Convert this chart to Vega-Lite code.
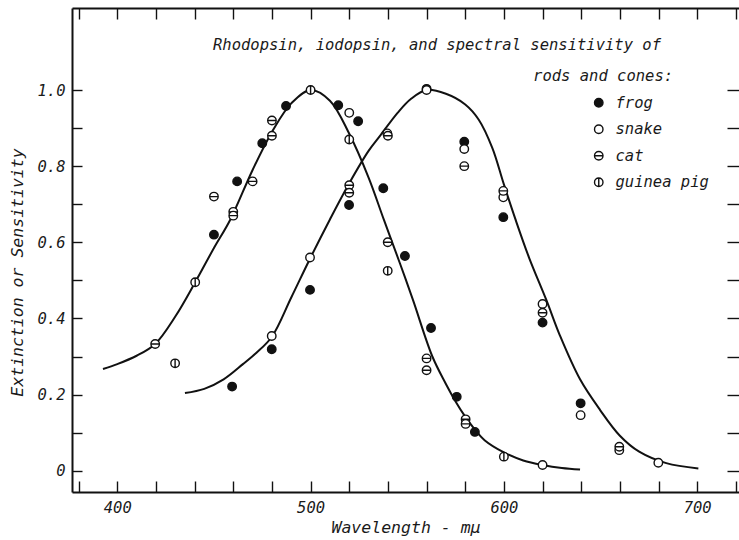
{
  "$schema": "https://vega.github.io/schema/vega-lite/v6.json",
  "width": 667,
  "height": 484,
  "autosize": {"type": "none"},
  "padding": {"left": 72, "top": 8, "right": 0, "bottom": 48},
  "background": "white",
  "config": {
    "view": {"stroke": null},
    "font": "DejaVu Sans Mono",
    "axis": {
      "grid": false,
      "labelFont": "DejaVu Sans Mono",
      "labelFontStyle": "italic",
      "labelFontSize": 15.5,
      "labelColor": "#1a1a1a",
      "labelFlush": false,
      "labelOverlap": false,
      "titleFont": "DejaVu Sans Mono",
      "titleFontStyle": "italic",
      "titleFontWeight": "normal",
      "titleFontSize": 16.5,
      "titleColor": "#1a1a1a",
      "domainColor": "#111111",
      "domainWidth": 2,
      "tickColor": "#111111",
      "tickWidth": 1.4
    },
    "legend": {
      "title": null,
      "orient": "none",
      "legendX": 519,
      "legendY": 87,
      "padding": 0,
      "labelFont": "DejaVu Sans Mono",
      "labelFontStyle": "italic",
      "labelFontSize": 15.5,
      "labelColor": "#1a1a1a",
      "labelOffset": 9,
      "rowPadding": 9.5,
      "symbolSize": 72,
      "symbolStrokeWidth": 1.4
    }
  },
  "datasets": {
    "curves": [
      {"curve": "rods", "wl": 392.6, "v": 0.267},
      {"curve": "rods", "wl": 400, "v": 0.28},
      {"curve": "rods", "wl": 410, "v": 0.302},
      {"curve": "rods", "wl": 419.6, "v": 0.333},
      {"curve": "rods", "wl": 430, "v": 0.405},
      {"curve": "rods", "wl": 440.3, "v": 0.495},
      {"curve": "rods", "wl": 450, "v": 0.585},
      {"curve": "rods", "wl": 458.3, "v": 0.658},
      {"curve": "rods", "wl": 470, "v": 0.79},
      {"curve": "rods", "wl": 480, "v": 0.89},
      {"curve": "rods", "wl": 490, "v": 0.965},
      {"curve": "rods", "wl": 500, "v": 1.0},
      {"curve": "rods", "wl": 510, "v": 0.972},
      {"curve": "rods", "wl": 520, "v": 0.885},
      {"curve": "rods", "wl": 530, "v": 0.77},
      {"curve": "rods", "wl": 538, "v": 0.658},
      {"curve": "rods", "wl": 546.2, "v": 0.545},
      {"curve": "rods", "wl": 553, "v": 0.448},
      {"curve": "rods", "wl": 563, "v": 0.3},
      {"curve": "rods", "wl": 570, "v": 0.228},
      {"curve": "rods", "wl": 575, "v": 0.182},
      {"curve": "rods", "wl": 580, "v": 0.142},
      {"curve": "rods", "wl": 585, "v": 0.108},
      {"curve": "rods", "wl": 590, "v": 0.08},
      {"curve": "rods", "wl": 600, "v": 0.048},
      {"curve": "rods", "wl": 610, "v": 0.027},
      {"curve": "rods", "wl": 620, "v": 0.015},
      {"curve": "rods", "wl": 630, "v": 0.007},
      {"curve": "rods", "wl": 639.4, "v": 0.003},
      {"curve": "cones", "wl": 435, "v": 0.204},
      {"curve": "cones", "wl": 445, "v": 0.215},
      {"curve": "cones", "wl": 455, "v": 0.24},
      {"curve": "cones", "wl": 465, "v": 0.28},
      {"curve": "cones", "wl": 472, "v": 0.31},
      {"curve": "cones", "wl": 480, "v": 0.352},
      {"curve": "cones", "wl": 490, "v": 0.455},
      {"curve": "cones", "wl": 500, "v": 0.56},
      {"curve": "cones", "wl": 510, "v": 0.66},
      {"curve": "cones", "wl": 520, "v": 0.755},
      {"curve": "cones", "wl": 530, "v": 0.84},
      {"curve": "cones", "wl": 536, "v": 0.88},
      {"curve": "cones", "wl": 545, "v": 0.94},
      {"curve": "cones", "wl": 552, "v": 0.977},
      {"curve": "cones", "wl": 560, "v": 1.0},
      {"curve": "cones", "wl": 570, "v": 0.99},
      {"curve": "cones", "wl": 580, "v": 0.962},
      {"curve": "cones", "wl": 587, "v": 0.922},
      {"curve": "cones", "wl": 594, "v": 0.848},
      {"curve": "cones", "wl": 600, "v": 0.752},
      {"curve": "cones", "wl": 606, "v": 0.66},
      {"curve": "cones", "wl": 613, "v": 0.56},
      {"curve": "cones", "wl": 622, "v": 0.448},
      {"curve": "cones", "wl": 629, "v": 0.355},
      {"curve": "cones", "wl": 639.4, "v": 0.24},
      {"curve": "cones", "wl": 649.7, "v": 0.16},
      {"curve": "cones", "wl": 660, "v": 0.092},
      {"curve": "cones", "wl": 670, "v": 0.05},
      {"curve": "cones", "wl": 684, "v": 0.02},
      {"curve": "cones", "wl": 700.6, "v": 0.006}
    ],
    "measurements": [
      {"species": "frog", "wl": 450, "v": 0.62},
      {"species": "frog", "wl": 462, "v": 0.76},
      {"species": "frog", "wl": 475, "v": 0.86},
      {"species": "frog", "wl": 487.3, "v": 0.958},
      {"species": "frog", "wl": 514.3, "v": 0.96},
      {"species": "frog", "wl": 524.6, "v": 0.918},
      {"species": "frog", "wl": 519.9, "v": 0.698},
      {"species": "frog", "wl": 537.6, "v": 0.742},
      {"species": "frog", "wl": 548.8, "v": 0.564},
      {"species": "frog", "wl": 562.3, "v": 0.375},
      {"species": "frog", "wl": 575.6, "v": 0.194},
      {"species": "frog", "wl": 585, "v": 0.102},
      {"species": "frog", "wl": 579.5, "v": 0.864},
      {"species": "frog", "wl": 599.7, "v": 0.666},
      {"species": "frog", "wl": 620, "v": 0.389},
      {"species": "frog", "wl": 639.7, "v": 0.177},
      {"species": "frog", "wl": 459.4, "v": 0.221},
      {"species": "frog", "wl": 479.9, "v": 0.319},
      {"species": "frog", "wl": 499.7, "v": 0.475},
      {"species": "frog", "wl": 560, "v": 1.003},
      {"species": "snake", "wl": 479.9, "v": 0.354},
      {"species": "snake", "wl": 499.7, "v": 0.56},
      {"species": "snake", "wl": 520, "v": 0.94},
      {"species": "snake", "wl": 539.7, "v": 0.886},
      {"species": "snake", "wl": 560, "v": 1.0},
      {"species": "snake", "wl": 579.5, "v": 0.845},
      {"species": "snake", "wl": 599.7, "v": 0.718},
      {"species": "snake", "wl": 620, "v": 0.438},
      {"species": "snake", "wl": 639.7, "v": 0.146},
      {"species": "snake", "wl": 659.7, "v": 0.054},
      {"species": "snake", "wl": 679.9, "v": 0.021},
      {"species": "snake", "wl": 620, "v": 0.015},
      {"species": "cat", "wl": 419.6, "v": 0.333},
      {"species": "cat", "wl": 450, "v": 0.72},
      {"species": "cat", "wl": 460, "v": 0.68},
      {"species": "cat", "wl": 460, "v": 0.67},
      {"species": "cat", "wl": 470, "v": 0.76},
      {"species": "cat", "wl": 480, "v": 0.92},
      {"species": "cat", "wl": 480, "v": 0.88},
      {"species": "cat", "wl": 520, "v": 0.75},
      {"species": "cat", "wl": 520, "v": 0.73},
      {"species": "cat", "wl": 540, "v": 0.88},
      {"species": "cat", "wl": 539.9, "v": 0.6},
      {"species": "cat", "wl": 560, "v": 0.295},
      {"species": "cat", "wl": 560, "v": 0.264},
      {"species": "cat", "wl": 580.2, "v": 0.135},
      {"species": "cat", "wl": 580.2, "v": 0.123},
      {"species": "cat", "wl": 579.5, "v": 0.8},
      {"species": "cat", "wl": 599.7, "v": 0.735},
      {"species": "cat", "wl": 620, "v": 0.415},
      {"species": "cat", "wl": 659.7, "v": 0.063},
      {"species": "guinea pig", "wl": 429.9, "v": 0.282},
      {"species": "guinea pig", "wl": 440.3, "v": 0.495},
      {"species": "guinea pig", "wl": 500, "v": 1.0},
      {"species": "guinea pig", "wl": 520, "v": 0.87},
      {"species": "guinea pig", "wl": 539.9, "v": 0.525},
      {"species": "guinea pig", "wl": 600, "v": 0.037}
    ],
    "notes": [
      {"wl": 565.4, "v": 1.118, "label": "Rhodopsin, iodopsin, and spectral sensitivity of"},
      {"wl": 651.3, "v": 1.037, "label": "rods and cones:"}
    ]
  },
  "layer": [
    {
      "data": {"name": "curves"},
      "mark": {"type": "line", "color": "#111111", "strokeWidth": 2, "interpolate": "catmull-rom"},
      "encoding": {
        "x": {
          "field": "wl", "type": "quantitative",
          "scale": {"domain": [376.57, 721.63], "nice": false, "zero": false},
          "axis": {
            "orient": "bottom",
            "values": [380, 400, 420, 440, 460, 480, 500, 520, 540, 560, 580, 600, 620, 640, 660, 680, 700, 720],
            "labelExpr": "datum.value % 100 == 0 ? format(datum.value, 'd') : ''",
            "tickSize": -11,
            "labelPadding": 19,
            "title": "Wavelength - mμ",
            "titleX": 333.5,
            "titleY": 35,
            "titleBaseline": "middle"
          }
        },
        "y": {
          "field": "v", "type": "quantitative",
          "scale": {"domain": [-0.0559, 1.2154], "nice": false, "zero": false},
          "axis": {
            "orient": "left",
            "values": [0, 0.1, 0.2, 0.3, 0.4, 0.5, 0.6, 0.7, 0.8, 0.9, 1.0],
            "labelExpr": "datum.value == 0 ? '0' : (round(datum.value * 10) % 2 == 0 ? format(datum.value, '.1f') : '')",
            "tickSize": -10,
            "labelPadding": 17,
            "title": "Extinction or Sensitivity",
            "titleX": -55,
            "titleY": 264,
            "titleAngle": 270,
            "titleBaseline": "middle"
          }
        },
        "detail": {"field": "curve", "type": "nominal"}
      }
    },
    {
      "data": {"name": "measurements"},
      "mark": {"type": "point", "filled": true, "strokeWidth": 1.4, "size": 72, "opacity": 1},
      "encoding": {
        "x": {
          "field": "wl", "type": "quantitative",
          "scale": {"domain": [376.57, 721.63], "nice": false, "zero": false},
          "axis": {
            "orient": "top",
            "values": [380, 400, 420, 440, 460, 480, 500, 520, 540, 560, 580, 600, 620, 640, 660, 680, 700, 720],
            "labels": false,
            "tickSize": -11,
            "title": null
          }
        },
        "y": {
          "field": "v", "type": "quantitative",
          "scale": {"domain": [-0.0559, 1.2154], "nice": false, "zero": false},
          "axis": {
            "orient": "right",
            "values": [0, 0.1, 0.2, 0.3, 0.4, 0.5, 0.6, 0.7, 0.8, 0.9, 1.0],
            "labels": false,
            "domain": false,
            "tickSize": -12,
            "title": null
          }
        },
        "shape": {
          "field": "species", "type": "nominal",
          "scale": {
            "domain": ["frog", "snake", "cat", "guinea pig"],
            "range": [
              "M-1,0A1,1,0,1,1,1,0A1,1,0,1,1,-1,0Z",
              "M-1,0A1,1,0,1,1,1,0A1,1,0,1,1,-1,0Z",
              "M-1,0A1,1,0,1,1,1,0A1,1,0,1,1,-1,0ZM-1,0L1,0",
              "M-1,0A1,1,0,1,1,1,0A1,1,0,1,1,-1,0ZM0,-1L0,1"
            ]
          }
        },
        "fill": {
          "field": "species", "type": "nominal",
          "scale": {"domain": ["frog", "snake", "cat", "guinea pig"], "range": ["#111111", "white", "white", "white"]}
        },
        "stroke": {
          "field": "species", "type": "nominal",
          "scale": {"domain": ["frog", "snake", "cat", "guinea pig"], "range": ["#111111", "#111111", "#111111", "#111111"]}
        }
      }
    },
    {
      "data": {"name": "notes"},
      "mark": {"type": "text", "font": "DejaVu Sans Mono", "fontStyle": "italic", "fontSize": 15.5, "align": "center", "baseline": "middle", "color": "#1a1a1a"},
      "encoding": {
        "x": {"field": "wl", "type": "quantitative", "axis": null},
        "y": {"field": "v", "type": "quantitative", "axis": null},
        "text": {"field": "label"}
      }
    }
  ]
}
